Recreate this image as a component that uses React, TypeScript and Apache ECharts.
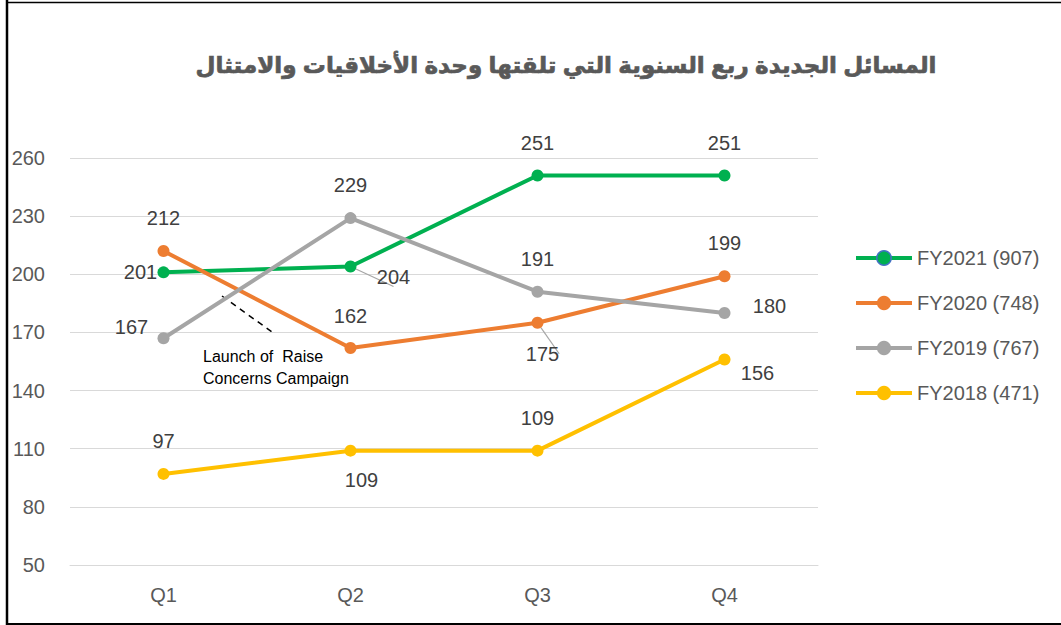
import React, { useEffect, useRef } from 'react';
import * as echarts from 'echarts';

const categories = ['Q1', 'Q2', 'Q3', 'Q4'];
const seriesNames = ['FY2021 (907)', 'FY2020 (748)', 'FY2019 (767)', 'FY2018 (471)'];
const fy2021 = [201, 204, 251, 251];
const fy2020 = [212, 162, 175, 199];
const fy2019 = [167, 229, 191, 180];
const fy2018 = [97, 109, 109, 156];
const yMin = 50;
const yMax = 260;
const yInterval = 30;
const titleText = 'المسائل الجديدة ربع السنوية التي تلقتها وحدة الأخلاقيات والامتثال';
const annotationText = 'Launch of  Raise\nConcerns Campaign';

const FONT = '"Liberation Sans", Arial, "DejaVu Sans", sans-serif';
const colors = ['#00B050', '#ED7D31', '#A5A5A5', '#FFC000'];

// label placement (offset from point centre) and leader-line settings
const labelOffsets: number[][][] = [
  [[-23, 0], [43, 10], [0, -32], [0, -32]],
  [[0, -33], [0, -32], [5, 31], [0, -33]],
  [[-32, -11], [0, -33], [0, -33], [45, -7]],
  [[0, -33], [11, 29], [0, -33], [33, 13]],
];
const leaderLen: (number | null)[][] = [
  [null, 0, null, null],
  [null, null, 0, null],
  [null, null, null, null],
  [null, null, null, null],
];

const allValues = [fy2021, fy2020, fy2019, fy2018];

export default function App() {
  const ref = useRef<HTMLDivElement>(null);
  useEffect(() => {
    if (!ref.current) return;
    const chart = echarts.init(ref.current, undefined, { renderer: 'svg' });
    const series = allValues.map((vals, s) => ({
      name: seriesNames[s],
      type: 'line',
      data: vals.map((v, i) => {
        const len = leaderLen[s][i];
        return {
          value: v,
          label: { offset: labelOffsets[s][i] },
          labelLine: len === null ? { show: false } : { show: true, length2: len },
        };
      }),
      symbol: 'circle',
      symbolSize: 12,
      lineStyle: { width: 4, color: colors[s] },
      itemStyle: { color: colors[s] },
      label: {
        show: true,
        position: 'inside',
        fontSize: 20,
        fontFamily: FONT,
        color: '#404040',
        textBorderColor: 'transparent',
        textBorderWidth: 0,
      },
      labelLine: {
        show: false,
        length2: 0,
        lineStyle: { color: '#A6A6A6', width: 1.2 },
      },
      emphasis: { disabled: true },
    }));
    chart.setOption({
      animation: false,
      backgroundColor: '#ffffff',
      title: {
        text: titleText,
        left: 561,
        top: 48,
        textAlign: 'center',
        textStyle: {
          fontSize: 23,
          fontWeight: 'bold',
          color: '#595959',
          fontFamily: FONT,
          textBorderColor: '#595959',
          textBorderWidth: 0.7,
        },
      },
      legend: {
        orient: 'vertical',
        left: 849,
        top: 243,
        itemWidth: 56,
        itemHeight: 18,
        itemGap: 25,
        lineStyle: { width: 4 },
        textStyle: { fontSize: 20, color: '#595959', fontFamily: FONT },
        data: [
          { name: seriesNames[0], itemStyle: { borderColor: '#4472C4', borderWidth: 1.5 } },
          { name: seriesNames[1] },
          { name: seriesNames[2] },
          { name: seriesNames[3] },
        ],
      },
      grid: { left: 70, right: 243, top: 158, bottom: 60, containLabel: false },
      xAxis: {
        type: 'category',
        data: categories,
        boundaryGap: true,
        axisLine: { show: true, lineStyle: { color: '#D9D9D9', width: 1 } },
        axisTick: { show: false },
        axisLabel: { color: '#595959', fontSize: 20, margin: 20, fontFamily: FONT },
      },
      yAxis: {
        type: 'value',
        min: yMin,
        max: yMax,
        interval: yInterval,
        axisLine: { show: false },
        axisTick: { show: false },
        axisLabel: { color: '#595959', fontSize: 20, margin: 25, fontFamily: FONT },
        splitLine: { lineStyle: { color: '#D9D9D9', width: 1 } },
      },
      series,
      graphic: [
        { type: 'line', shape: { x1: 7, y1: 0, x2: 7, y2: 625 }, style: { stroke: '#000', lineWidth: 2.5 } },
        { type: 'line', shape: { x1: 6, y1: 2.5, x2: 1061, y2: 2.5 }, style: { stroke: '#000', lineWidth: 1.5 } },
        { type: 'line', shape: { x1: 6, y1: 624, x2: 1061, y2: 624 }, style: { stroke: '#000', lineWidth: 2 } },
        {
          type: 'line',
          shape: { x1: 222, y1: 296, x2: 272, y2: 332 },
          style: { stroke: '#000', lineWidth: 1.5, lineDash: [6, 5] },
        },
        {
          type: 'text',
          left: 203,
          top: 345,
          style: { text: annotationText, fontSize: 16, lineHeight: 22, fill: '#000', fontFamily: FONT },
        },
      ],
    });
    return () => chart.dispose();
  }, []);
  return (
    <div
      ref={ref}
      style={{ position: 'absolute', left: 0, top: 0, width: 1061, height: 625 }}
    />
  );
}
